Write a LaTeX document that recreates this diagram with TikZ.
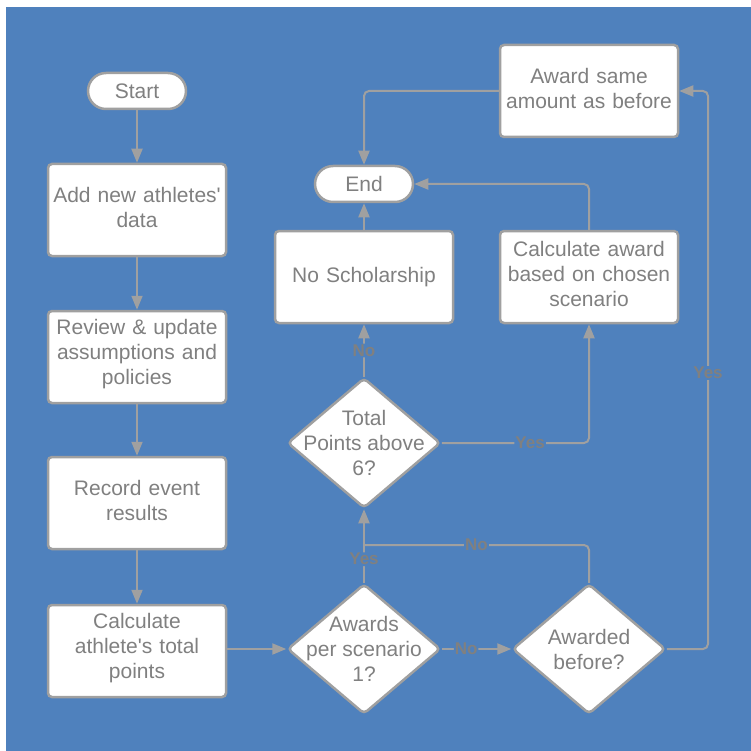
\documentclass[tikz,border=0pt]{standalone}
\usepackage{fontspec}
\setmainfont{Liberation Sans}[Ligatures=TeXOff]
\usetikzlibrary{shapes.geometric,arrows.meta}
\definecolor{chartblue}{RGB}{79,129,189}
\definecolor{linegray}{RGB}{160,160,160}
\definecolor{textgray}{RGB}{128,128,128}

\begin{document}
\begin{tikzpicture}[x=1pt,y=-1pt,
    plainbox/.style={draw=linegray, line width=2.5pt, fill=white, rounded corners=4pt,
        minimum width=178pt, minimum height=92pt, text width=174pt, align=center,
        inner sep=0pt, text=textgray, font=\fontsize{21}{25}\selectfont},
    box/.style={plainbox, execute at end node={\endgraf\vspace{6pt}}},
    term/.style={draw=linegray, line width=2.5pt, fill=white, rounded corners=18pt,
        minimum width=98pt, minimum height=36pt, inner sep=0pt,
        text=textgray, font=\fontsize{21}{25}\selectfont},
    decision/.style={diamond, draw=linegray, line width=2.5pt, fill=white,
        rounded corners=4pt, minimum width=153pt, minimum height=130pt, inner sep=0pt},
    dtext/.style={align=center, text=textgray, font=\fontsize{21}{25}\selectfont},
    flow/.style={draw=linegray, line width=2pt, rounded corners=5pt,
        -{Triangle[length=14pt,width=11pt]}},
    link/.style={draw=linegray, line width=2pt, rounded corners=5pt},
    lbl/.style={fill=chartblue, text=textgray, inner sep=1pt,
        font=\bfseries\fontsize{17}{17}\selectfont}]

    % Background
    \fill[white] (0,0) rectangle (751,751);
    \fill[chartblue] (6,7) rectangle (751,751);

    % Left column
    \node[term] (start) at (137,91) {Start};
    \node[box] (add) at (137,210) {Add new athletes'\\data};
    \node[box] (review) at (137,357) {Review \& update\\assumptions and\\policies};
    \node[box] (record) at (137,503) {Record event\\results};
    \node[box] (calc) at (137,651) {Calculate\\athlete's total\\points};

    % Decisions
    \node[decision] (d1) at (364,649) {};
    \node[dtext] (d1text) at (d1) {Awards\\per scenario\\1?};
    \node[decision] (d2) at (589,649) {};
    \node[dtext] (d2text) at (d2) {Awarded\\before?};
    \node[decision] (d3) at (364,443) {};
    \node[dtext] (d3text) at (d3) {Total\\Points above\\6?};

    % Outcomes
    \node[plainbox] (nosch) at (364,277) {No Scholarship};
    \node[box] (calcaward) at (589,277) {Calculate award\\based on chosen\\scenario};
    \node[box] (same) at (589,91) {Award same\\amount as before};
    \node[term] (end) at (364,184) {End};

    % Helper points
    \coordinate (join) at (364,545);
    \coordinate (rail) at (708,373);

    % Connectors
    \draw[flow] (start) -- (add);
    \draw[flow] (add) -- (review);
    \draw[flow] (review) -- (record);
    \draw[flow] (record) -- (calc);
    \draw[flow] (calc.east |- d1) -- (d1);
    \draw[flow] (d1) -- node[lbl, pos=0.35] {No} (d2);
    \draw[flow] (d1) -- node[lbl, pos=0.32] {Yes} (d3);
    \draw[link] (d2.north) |- node[lbl, pos=0.75] {No} (join);
    \draw[flow] (d2.east) -| (rail) node[lbl] {Yes} |- (same.east);
    \draw[flow] (d3.east) -| node[lbl, pos=0.3] {Yes} (calcaward.south);
    \draw[flow] (d3) -- node[lbl] {No} (nosch);
    \draw[flow] (nosch) -- (end);
    \draw[flow] (calcaward.north) |- (end.east);
    \draw[flow] (same.west) -| (end.north);
\end{tikzpicture}
\end{document}
